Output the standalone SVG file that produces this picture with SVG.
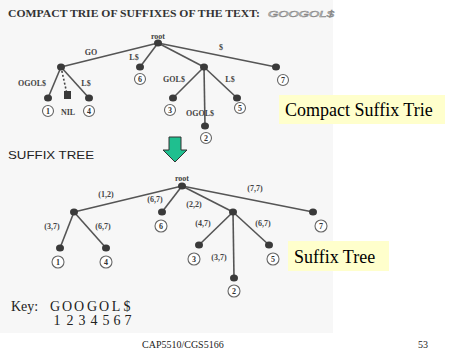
<svg xmlns="http://www.w3.org/2000/svg" width="449" height="354" viewBox="0 0 449 354">
<style>
.bg{fill:#f7f7f7}
.edge{stroke:#555;stroke-width:1.6;fill:none}
.dash{stroke:#444;stroke-width:1.6;stroke-dasharray:2,2;fill:none}
.dot{fill:#3a3a3a}
.leaf{fill:#fff;stroke:#666;stroke-width:1.1}
.num{font-family:"Liberation Serif",serif;font-size:8px;font-weight:bold;fill:#333;text-anchor:middle}
.lbl{font-family:"Liberation Serif",serif;font-size:8px;font-weight:bold;fill:#444;text-anchor:middle}
.big{font-family:"Liberation Serif",serif;font-size:18px;fill:#000}
.box{fill:#ffffcc}
.key{font-family:"Liberation Serif",serif;font-size:14px;fill:#222}
.keyc{font-family:"Liberation Serif",serif;font-size:14px;fill:#222;text-anchor:middle}
</style>
<rect x="0" y="0" width="449" height="354" fill="#fff"/>
<rect class="bg" x="0" y="0" width="333" height="333"/>
<text x="8" y="17" font-family="Liberation Serif,serif" font-size="10" font-weight="bold" fill="#333" textLength="252" lengthAdjust="spacingAndGlyphs">COMPACT TRIE OF SUFFIXES OF THE TEXT:</text>
<text x="268" y="17" font-family="Liberation Sans,sans-serif" font-size="9.5" font-style="italic" fill="#fff" stroke="#888" stroke-width="0.6" textLength="66" lengthAdjust="spacingAndGlyphs">GOOGOL$</text>

<g id="connectors">
<line class="edge" x1="158" y1="43" x2="61" y2="67"/>
<line class="edge" x1="158" y1="43" x2="140" y2="67"/>
<line class="edge" x1="158" y1="43" x2="204" y2="67"/>
<line class="edge" x1="158" y1="43" x2="276" y2="67"/>
<line class="edge" x1="61" y1="67" x2="48" y2="98"/>
<line class="dash" x1="61" y1="67" x2="67" y2="94"/>
<line class="edge" x1="61" y1="67" x2="89" y2="98"/>
<line class="edge" x1="204" y1="67" x2="173" y2="98"/>
<line class="edge" x1="204" y1="67" x2="205" y2="126"/>
<line class="edge" x1="204" y1="67" x2="237" y2="98"/>

<line class="edge" x1="182" y1="186" x2="74" y2="212"/>
<line class="edge" x1="182" y1="186" x2="162" y2="212"/>
<line class="edge" x1="182" y1="186" x2="233" y2="212"/>
<line class="edge" x1="182" y1="186" x2="313" y2="212"/>
<line class="edge" x1="74" y1="212" x2="60" y2="248"/>
<line class="edge" x1="74" y1="212" x2="106" y2="248"/>
<line class="edge" x1="233" y1="212" x2="199" y2="245"/>
<line class="edge" x1="233" y1="212" x2="234" y2="278"/>
<line class="edge" x1="233" y1="212" x2="269" y2="245"/>
</g>

<g id="edge-labels">
<text class="lbl" x="91" y="55">GO</text>
<text class="lbl" x="134" y="60">L$</text>
<text class="lbl" x="221" y="50">$</text>
<text class="lbl" x="32" y="86">OGOL$</text>
<text class="lbl" x="86" y="86">L$</text>
<text class="lbl" x="174" y="82">GOL$</text>
<text class="lbl" x="230" y="82">L$</text>
<text class="lbl" x="200" y="116">OGOL$</text>

<text class="lbl" x="106" y="197">(1,2)</text>
<text class="lbl" x="155" y="202">(6,7)</text>
<text class="lbl" x="194" y="207">(2,2)</text>
<text class="lbl" x="255" y="191">(7,7)</text>
<text class="lbl" x="52" y="229">(3,7)</text>
<text class="lbl" x="103" y="229">(6,7)</text>
<text class="lbl" x="203" y="226">(4,7)</text>
<text class="lbl" x="219" y="260">(3,7)</text>
<text class="lbl" x="263" y="226">(6,7)</text>
</g>

<g id="t-root"><ellipse class="dot" cx="158" cy="43" rx="4" ry="3.5"/><text class="lbl" x="158" y="39">root</text></g>
<g id="t-go"><ellipse class="dot" cx="61" cy="67" rx="4" ry="3.5"/></g>
<g id="t-o"><ellipse class="dot" cx="204" cy="67" rx="4" ry="3.5"/></g>
<g id="t-leaf1"><ellipse class="dot" cx="48" cy="98" rx="4" ry="3.5"/><circle class="leaf" cx="48" cy="111" r="5.5"/><text class="num" x="48" y="113.8">1</text></g>
<g id="t-nil"><rect class="dot" x="64" y="91" width="7" height="8"/><text class="lbl" x="68" y="114.5">NIL</text></g>
<g id="t-leaf4"><ellipse class="dot" cx="89" cy="98" rx="4" ry="3.5"/><circle class="leaf" cx="89" cy="111" r="5.5"/><text class="num" x="89" y="113.8">4</text></g>
<g id="t-leaf6"><ellipse class="dot" cx="140" cy="67" rx="4" ry="3.5"/><circle class="leaf" cx="140" cy="79" r="5.5"/><text class="num" x="140" y="81.8">6</text></g>
<g id="t-leaf7"><ellipse class="dot" cx="276" cy="67" rx="4" ry="3.5"/><circle class="leaf" cx="283" cy="80" r="5.5"/><text class="num" x="283" y="82.8">7</text></g>
<g id="t-leaf3"><ellipse class="dot" cx="173" cy="98" rx="4" ry="3.5"/><circle class="leaf" cx="170" cy="110" r="5.5"/><text class="num" x="170" y="112.8">3</text></g>
<g id="t-leaf2"><ellipse class="dot" cx="205" cy="126" rx="4" ry="3.5"/><circle class="leaf" cx="206" cy="138" r="5.5"/><text class="num" x="206" y="140.8">2</text></g>
<g id="t-leaf5"><ellipse class="dot" cx="237" cy="98" rx="4" ry="3.5"/><circle class="leaf" cx="240" cy="108" r="5.5"/><text class="num" x="240" y="110.8">5</text></g>

<g id="label-trie"><rect class="box" x="279" y="95" width="166" height="29"/><text class="big" x="285" y="116">Compact Suffix Trie</text></g>

<g id="arrow"><path d="M169,137 H181 V150 H187 L175,162 L163,150 H169 Z" fill="#1fbf8f" stroke="#333" stroke-width="1"/></g>

<text x="8" y="159" font-family="Liberation Sans,sans-serif" font-size="11" fill="#222" textLength="86" lengthAdjust="spacingAndGlyphs">SUFFIX TREE</text>

<g id="s-root"><ellipse class="dot" cx="182" cy="186" rx="4" ry="3.5"/><text class="lbl" x="182" y="181">root</text></g>
<g id="s-go"><ellipse class="dot" cx="74" cy="212" rx="4" ry="3.5"/></g>
<g id="s-o"><ellipse class="dot" cx="233" cy="212" rx="4" ry="3.5"/></g>
<g id="s-leaf1"><ellipse class="dot" cx="60" cy="248" rx="4" ry="3.5"/><circle class="leaf" cx="58" cy="262" r="6"/><text class="num" x="58" y="264.8">1</text></g>
<g id="s-leaf4"><ellipse class="dot" cx="106" cy="248" rx="4" ry="3.5"/><circle class="leaf" cx="106" cy="262" r="6"/><text class="num" x="106" y="264.8">4</text></g>
<g id="s-leaf6"><ellipse class="dot" cx="162" cy="212" rx="4" ry="3.5"/><circle class="leaf" cx="161" cy="226" r="6"/><text class="num" x="161" y="228.8">6</text></g>
<g id="s-leaf7"><ellipse class="dot" cx="313" cy="212" rx="4" ry="3.5"/><circle class="leaf" cx="321" cy="226" r="6"/><text class="num" x="321" y="228.8">7</text></g>
<g id="s-leaf3"><ellipse class="dot" cx="199" cy="245" rx="4" ry="3.5"/><circle class="leaf" cx="194" cy="259" r="6"/><text class="num" x="194" y="261.8">3</text></g>
<g id="s-leaf2"><ellipse class="dot" cx="234" cy="278" rx="4" ry="3.5"/><circle class="leaf" cx="234" cy="291" r="6"/><text class="num" x="234" y="293.8">2</text></g>
<g id="s-leaf5"><ellipse class="dot" cx="269" cy="245" rx="4" ry="3.5"/><circle class="leaf" cx="273" cy="259" r="6"/><text class="num" x="273" y="261.8">5</text></g>

<g id="label-tree"><rect class="box" x="288" y="241" width="101" height="30"/><text class="big" x="294" y="263">Suffix Tree</text></g>

<text class="key" x="11" y="311">Key:</text>
<text class="keyc" x="55 67 79 92 104 116 127" y="311">GOOGOL$</text>
<text class="keyc" x="57 70 82 94 106 117 128" y="325">1234567</text>

<text x="142" y="348" font-family="Liberation Serif,serif" font-size="10" fill="#222">CAP5510/CGS5166</text>
<text x="418" y="348" font-family="Liberation Serif,serif" font-size="10" fill="#222">53</text>
</svg>
